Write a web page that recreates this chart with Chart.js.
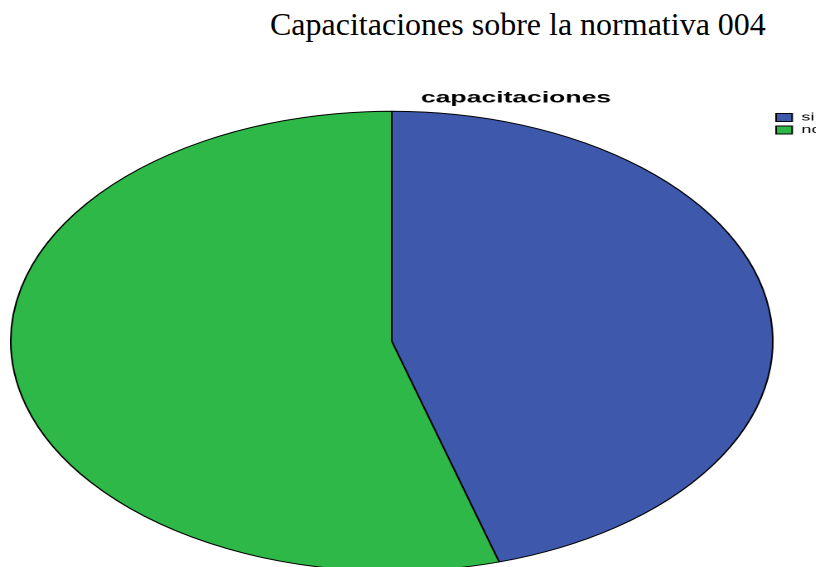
<!DOCTYPE html>
<html><head><meta charset="utf-8">
<script src="https://cdn.jsdelivr.net/npm/chart.js@4/dist/chart.umd.min.js"></script>
<style>
html,body{margin:0;padding:0;background:#fff;width:816px;height:567px;overflow:hidden;position:relative}
#title{position:absolute;left:270px;top:8px;font-family:"Liberation Serif","Times New Roman",serif;font-size:32px;line-height:1;color:#000;white-space:nowrap}
#wrap{position:absolute;left:0;top:80px;width:617px;height:492px;transform:scaleX(1.6565);transform-origin:0 0}
</style></head><body>
<div id="title"></div>
<div id="wrap"><canvas id="c"></canvas></div>
<script>
const pageTitle = 'Capacitaciones sobre la normativa 004';
const chartTitle = 'capacitaciones';
const categories = ['si', 'no'];
const counts = [10, 12];
const sliceColors = ['#3e58ac', '#2eb848'];

document.getElementById('title').textContent = pageTitle;

const LEGEND_W = 150;
const legendWidthPlugin = {
  id: 'legendWidth',
  beforeLayout(chart) {
    const lg = chart.legend;
    if (lg && !lg.__patched) {
      const fit = lg.fit;
      lg.fit = function () { fit.call(this); this.width = LEGEND_W; };
      lg.__patched = true;
    }
  }
};

new Chart(document.getElementById('c'), {
  type: 'pie',
  data: {
    labels: categories,
    datasets: [{
      data: counts,
      backgroundColor: sliceColors,
      borderColor: '#000',
      borderWidth: 1
    }]
  },
  options: {
    responsive: true,
    maintainAspectRatio: false,
    animation: false,
    devicePixelRatio: 2,
    layout: { padding: { left: 6, right: 0, top: 0, bottom: 0 } },
    plugins: {
      title: {
        display: true,
        text: chartTitle,
        color: '#000',
        font: { family: '"Liberation Sans", Arial, sans-serif', size: 16, weight: 'bold' },
        padding: { top: 8.6, bottom: 2.7 }
      },
      legend: {
        display: true,
        position: 'right',
        align: 'start',
        fullSize: false,
        labels: {
          color: '#000',
          font: { family: '"Liberation Sans", Arial, sans-serif', size: 11 },
          boxWidth: 9.7,
          boxHeight: 8,
          padding: 1.5
        }
      },
      tooltip: { enabled: false }
    }
  },
  plugins: [legendWidthPlugin]
});
</script>
</body></html>
